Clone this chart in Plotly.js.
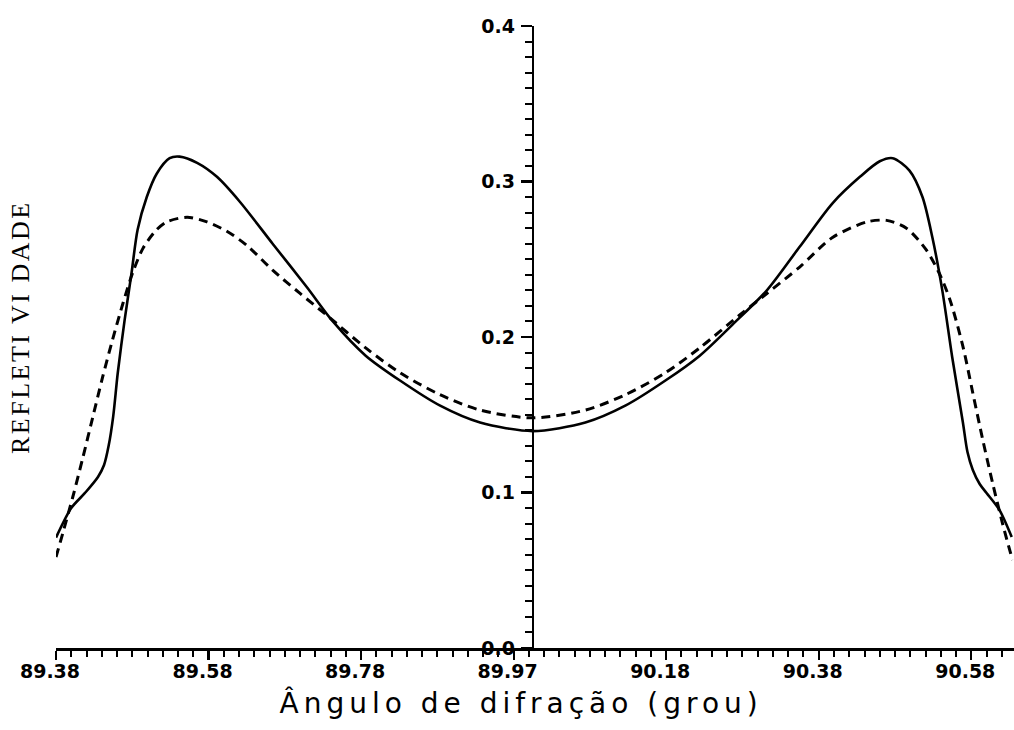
<!DOCTYPE html>
<html>
<head>
<meta charset="utf-8">
<script src="https://cdn.plot.ly/plotly-3.0.1.min.js"></script>
<style>html,body{margin:0;padding:0;background:#fff;}#chart{width:1014px;height:730px;}</style>
</head>
<body>
<div id="chart"></div>
<script>
// Solid curve
const solidX = [89.375, 89.395, 89.413, 89.430, 89.438, 89.444, 89.450, 89.456, 89.465, 89.474, 89.482, 89.494, 89.507, 89.524, 89.537, 89.560, 89.586, 89.616, 89.659, 89.704, 89.738, 89.781, 89.826, 89.878, 89.931, 90.000, 90.069, 90.122, 90.174, 90.219, 90.262, 90.307, 90.350, 90.393, 90.429, 90.455, 90.472, 90.494, 90.511, 90.524, 90.537, 90.550, 90.564, 90.570, 90.577, 90.586, 90.595, 90.612, 90.628];
const solidY = [0.071, 0.090, 0.0997, 0.110, 0.1177, 0.130, 0.149, 0.177, 0.211, 0.241, 0.269, 0.290, 0.305, 0.315, 0.316, 0.312, 0.303, 0.287, 0.260, 0.232, 0.210, 0.188, 0.172, 0.156, 0.145, 0.1395, 0.145, 0.156, 0.172, 0.188, 0.208, 0.230, 0.258, 0.286, 0.303, 0.313, 0.315, 0.307, 0.290, 0.264, 0.230, 0.187, 0.145, 0.126, 0.1145, 0.1055, 0.0997, 0.0887, 0.0714];
// Dashed curve
const dashX = [89.375, 89.384, 89.397, 89.410, 89.423, 89.436, 89.449, 89.463, 89.476, 89.489, 89.505, 89.520, 89.547, 89.573, 89.599, 89.625, 89.659, 89.695, 89.730, 89.781, 89.826, 89.878, 89.931, 90.000, 90.069, 90.122, 90.174, 90.219, 90.271, 90.307, 90.350, 90.393, 90.438, 90.464, 90.490, 90.516, 90.533, 90.547, 90.564, 90.577, 90.590, 90.603, 90.616, 90.629];
const dashY = [0.0585, 0.074, 0.0971, 0.122, 0.148, 0.174, 0.198, 0.222, 0.242, 0.257, 0.268, 0.274, 0.277, 0.274, 0.268, 0.259, 0.243, 0.228, 0.214, 0.193, 0.177, 0.163, 0.153, 0.148, 0.153, 0.163, 0.177, 0.193, 0.214, 0.228, 0.245, 0.264, 0.274, 0.275, 0.270, 0.256, 0.241, 0.224, 0.194, 0.164, 0.134, 0.106, 0.080, 0.0566];
// Axis ticks
const xTickVals = [89.375, 89.575, 89.775, 89.975, 90.175, 90.375, 90.575];
const xTickText = ["89.38", "89.58", "89.78", "89.97", "90.18", "90.38", "90.58"];
const yTickVals = [0.0, 0.1, 0.2, 0.3, 0.4];
const yTickText = ["0.0", "0.1", "0.2", "0.3", "0.4"];
const xTitle = "Ângulo de difração (grou)";
const yTitle = "REFLETI VI DADE";

const xRange = [89.375, 90.631];
const yAxisAt = 90.0;
const tickFont = {family: "DejaVu Sans", size: 19, color: "#000", weight: 700};

const traces = [
  {x: solidX, y: solidY, type: "scatter", mode: "lines",
   line: {color: "#000", width: 2.6, shape: "spline", smoothing: 0.8}, hoverinfo: "skip"},
  {x: dashX, y: dashY, type: "scatter", mode: "lines",
   line: {color: "#000", width: 3, dash: "9px,6px", shape: "spline", smoothing: 0.8}, hoverinfo: "skip"}
];

const layout = {
  width: 1014, height: 730,
  margin: {l: 56, r: 0, t: 26, b: 82, pad: 0},
  paper_bgcolor: "#fff", plot_bgcolor: "#fff",
  showlegend: false,
  xaxis: {
    range: xRange, showgrid: false, zeroline: false,
    showline: true, linecolor: "#000", linewidth: 2.5,
    ticks: "outside", ticklen: 9, tickwidth: 2.2, tickcolor: "#000",
    tickmode: "array", tickvals: xTickVals, ticktext: xTickText,
    tickfont: tickFont, ticklabelstandoff: -4, ticklabelshift: -6,
    minor: {ticks: "outside", tick0: 89.375, dtick: 0.02, ticklen: 6, tickwidth: 2, tickcolor: "#000", showgrid: false}
  },
  yaxis: {
    range: [0, 0.4], showgrid: false, zeroline: false,
    anchor: "free", position: (yAxisAt - xRange[0]) / (xRange[1] - xRange[0]),
    showline: true, linecolor: "#000", linewidth: 2.5,
    ticks: "outside", ticklen: 11, tickwidth: 2.2, tickcolor: "#000",
    tickmode: "array", tickvals: yTickVals, ticktext: yTickText,
    tickfont: tickFont, ticklabelstandoff: 2,
    minor: {ticks: "outside", dtick: 0.01, ticklen: 7, tickwidth: 2, tickcolor: "#000", showgrid: false}
  },
  annotations: [
    {text: xTitle, xref: "paper", yref: "paper", x: 0.485, y: -0.088,
     xanchor: "center", yanchor: "middle", showarrow: false,
     font: {family: "DejaVu Sans", size: 28, color: "#000"}},
    {text: yTitle, xref: "paper", yref: "paper", x: -0.037, y: 0.515,
     xanchor: "center", yanchor: "middle", showarrow: false, textangle: -90,
     font: {family: "Liberation Serif", size: 26, color: "#000"}}
  ]
};

Plotly.newPlot("chart", traces, layout, {staticPlot: true, displayModeBar: false}).then(function () {
  const texts = document.querySelectorAll("#chart .annotation-text");
  if (texts[0]) { texts[0].style.letterSpacing = "5px"; }
  if (texts[1]) { texts[1].style.letterSpacing = "2.5px"; }
});
</script>
</body>
</html>
